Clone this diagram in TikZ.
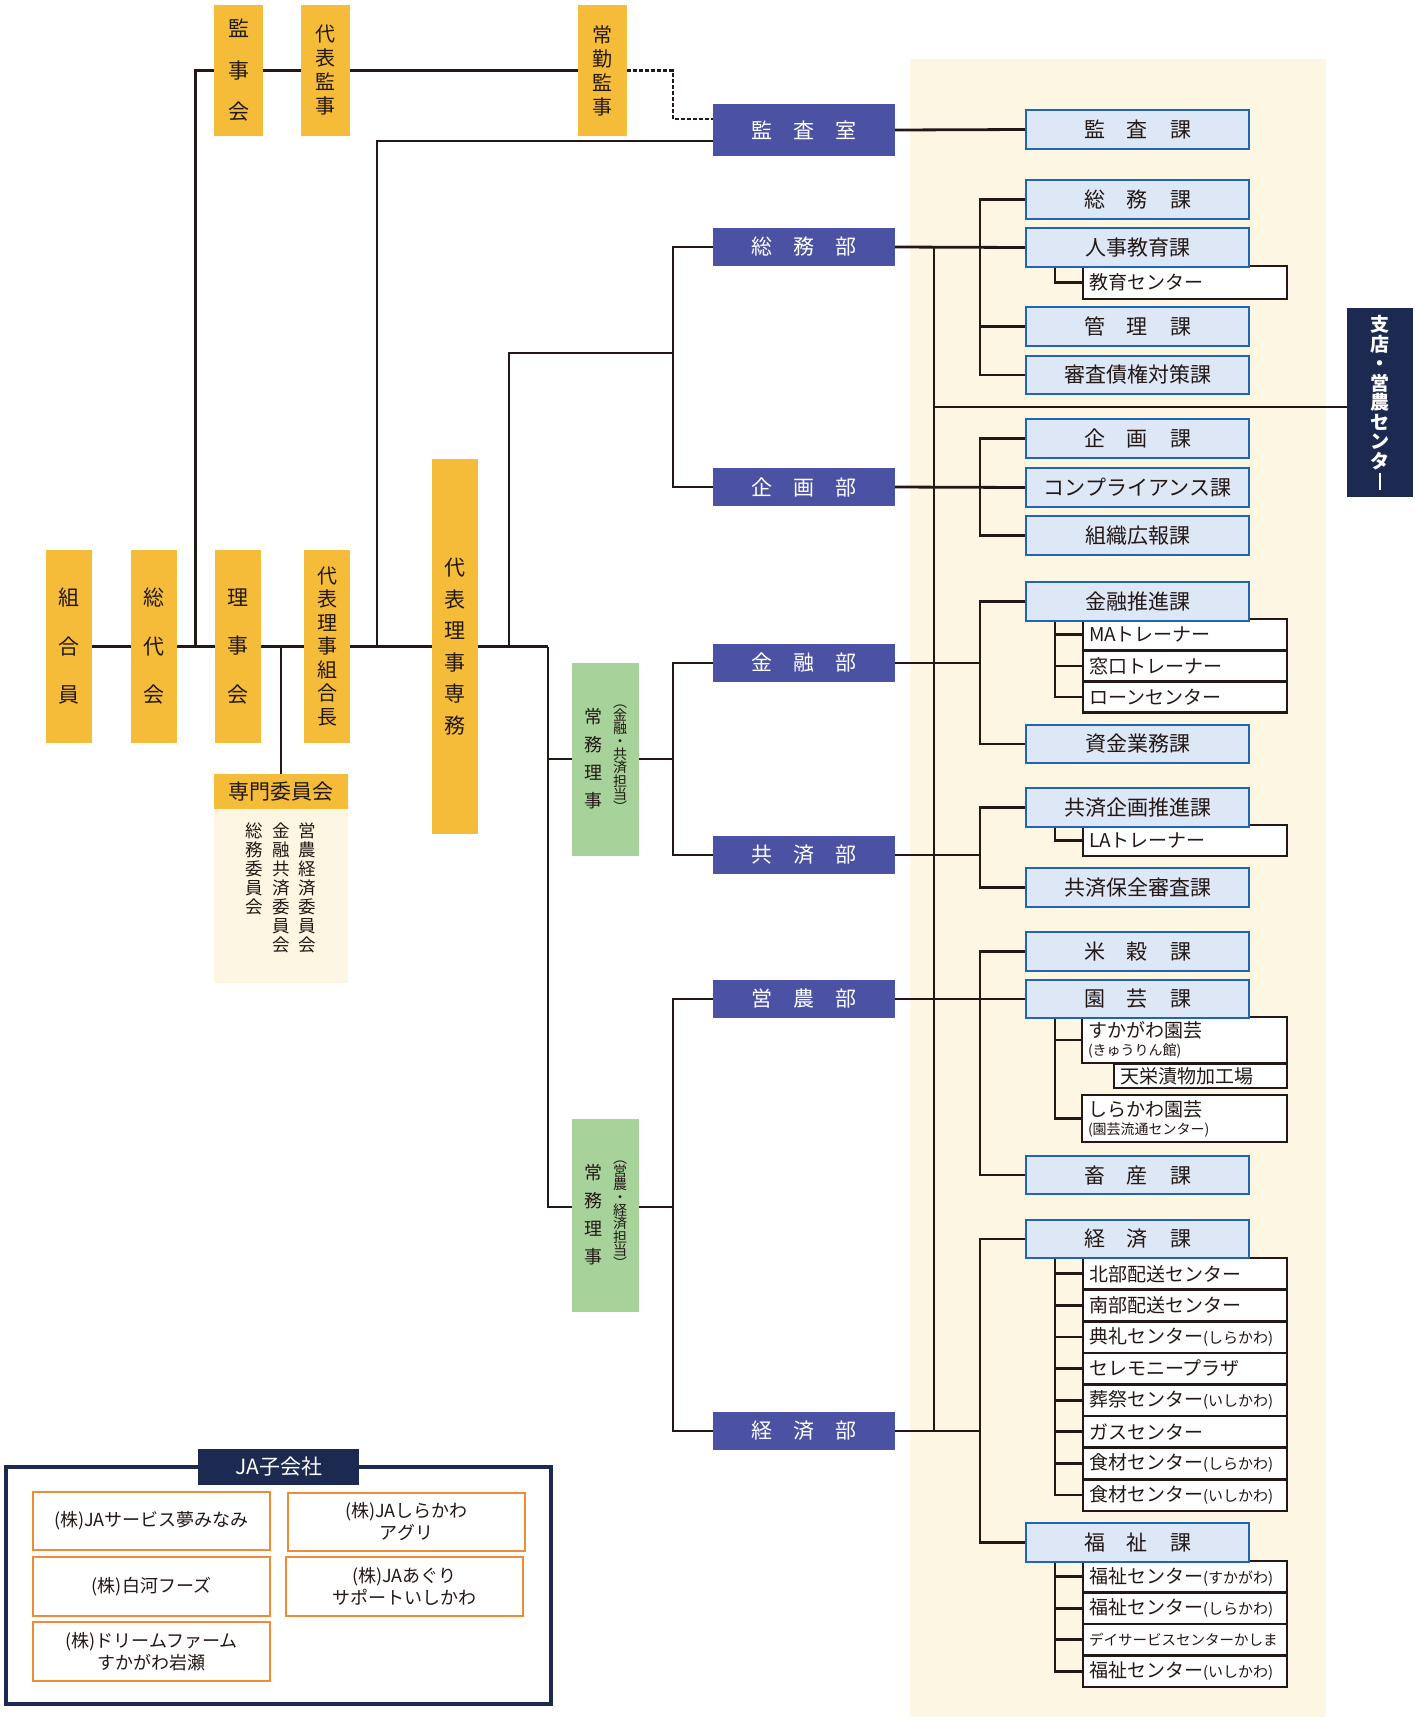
\documentclass[tikz,border=0pt]{standalone}
\usepackage{fontspec}
\setmainfont{Noto Sans CJK JP}
\definecolor{ink}{RGB}{35,24,21}
\definecolor{yel}{RGB}{244,188,57}
\definecolor{bub}{RGB}{75,82,163}
\definecolor{kaf}{RGB}{221,231,245}
\definecolor{kab}{RGB}{31,101,181}
\definecolor{grn}{RGB}{167,211,155}
\definecolor{crm}{RGB}{253,246,227}
\definecolor{nvy}{RGB}{28,42,82}
\definecolor{org}{RGB}{240,140,55}
\pgfdeclarelayer{back}\pgfdeclarelayer{bg}
\pgfsetlayers{back,bg,main}
\newcommand\bx[7]{\node[#1,minimum width={(#5-#3)*1pt},minimum height={(#6-#4)*1pt}] (#2) at ({(#3+#5)/2},{(#4+#6)/2}) {#7};}
\newcommand\fs[2]{\fontsize{#1}{#2}\selectfont}
\newcommand\bsp{\hspace{21pt}}
\newcommand\ksp{\hspace{22pt}}
\begin{document}
\begin{tikzpicture}[x=1pt,y=-1pt,
 yelbox/.style={fill=yel,text=ink,inner sep=0pt,align=center},
 bubox/.style={fill=bub,text=white,inner sep=0pt,font=\fs{21}{21}},
 kabox/.style={fill=kaf,draw=kab,line width=2.5pt,text=ink,inner sep=0pt,font=\fs{21}{21}},
 subbox/.style={fill=white,draw=ink,line width=2.6pt,text=ink,inner xsep=6pt,inner ysep=0pt,align=left,font=\fs{19}{19}},
 grnbox/.style={fill=grn,inner sep=0pt},
 creambox/.style={fill=crm,inner sep=0pt},
 navybox/.style={fill=nvy,text=white,inner sep=0pt,align=center},
 jaouter/.style={fill=white,draw=nvy,line width=3.5pt,inner sep=0pt},
 compbox/.style={fill=white,draw=org,line width=2.8pt,text=ink,inner sep=0pt,align=center,font=\fs{18}{22}},
 vtext/.style={inner sep=0pt,align=center,text=ink},
 ln/.style={draw=ink,line width=2.8pt},
 lnthin/.style={draw=ink,line width=2.2pt},
 dsh/.style={draw=ink,line width=2.6pt,dash pattern=on 4pt off 2pt}]
\useasboundingbox (0,0) rectangle (1416,1717);
\begin{pgfonlayer}{back}
\fill[crm] (910,59) rectangle (1326,1717);
\end{pgfonlayer}

% ---- yellow boxes ----
\bx{yelbox,font=\fs{21}{41.5}}{kanjikai}{214}{5}{263}{136}{監\\事\\会}
\bx{yelbox,font=\fs{20}{24}}{daikanji}{301}{5}{350}{136}{代\\表\\監\\事}
\bx{yelbox,font=\fs{20}{24}}{jokin}{578}{5}{627}{136}{常\\勤\\監\\事}
\bx{yelbox,font=\fs{21}{48.5}}{kumiai}{46}{550}{92}{743}{組\\合\\員}
\bx{yelbox,font=\fs{21}{48.5}}{sodai}{131}{550}{177}{743}{総\\代\\会}
\bx{yelbox,font=\fs{21}{48.5}}{rijikai}{215}{550}{261}{743}{理\\事\\会}
\bx{yelbox,font=\fs{20}{23.5}}{kumiaicho}{304}{550}{350}{743}{代\\表\\理\\事\\組\\合\\長}
\bx{yelbox,font=\fs{21}{31.5}}{senmu}{432}{459}{478}{834}{代\\表\\理\\事\\専\\務}
\bx{yelbox,font=\fs{21}{21}}{senmon}{214}{774}{348}{809}{専門委員会}
\bx{creambox}{iinkai}{214}{809}{348}{983}{}
\node[vtext,anchor=north,font=\fs{17.5}{18.9}] (i1) at (307,823) {営\\農\\経\\済\\委\\員\\会};
\node[vtext,anchor=north,font=\fs{17.5}{18.9}] (i2) at (281,823) {金\\融\\共\\済\\委\\員\\会};
\node[vtext,anchor=north,font=\fs{17.5}{18.9}] (i3) at (254,823) {総\\務\\委\\員\\会};

% ---- green boxes ----
\bx{grnbox}{jomu1}{572}{663}{639}{856}{}
\node[vtext,font=\fs{18}{28}] (j1a) at (593,759) {常\\務\\理\\事};
\node[vtext,font=\fs{14}{13}] (j1b) at (620,759) {︵\\金\\融\\・\\共\\済\\担\\当\\︶};
\bx{grnbox}{jomu2}{572}{1119}{639}{1312}{}
\node[vtext,font=\fs{18}{28}] (j2a) at (593,1215) {常\\務\\理\\事};
\node[vtext,font=\fs{14}{13}] (j2b) at (620,1215) {︵\\営\\農\\・\\経\\済\\担\\当\\︶};

% ---- blue departments ----
\bx{bubox}{kansashitsu}{713}{104}{895}{156}{監\bsp 査\bsp 室}
\bx{bubox}{somubu}{713}{228}{895}{266}{総\bsp 務\bsp 部}
\bx{bubox}{kikakubu}{713}{468}{895}{506}{企\bsp 画\bsp 部}
\bx{bubox}{kinyubu}{713}{644}{895}{682}{金\bsp 融\bsp 部}
\bx{bubox}{kyosaibu}{713}{836}{895}{874}{共\bsp 済\bsp 部}
\bx{bubox}{einobu}{713}{980}{895}{1018}{営\bsp 農\bsp 部}
\bx{bubox}{keizaibu}{713}{1412}{895}{1450}{経\bsp 済\bsp 部}

% ---- sub boxes (white) ----
\bx{subbox,text width=192pt}{kyoiku}{1083}{266}{1287}{299}{教育センター}
\bx{subbox,text width=192pt}{ma}{1083}{619}{1287}{650.5}{MAトレーナー}
\bx{subbox,text width=192pt}{madoguchi}{1083}{650.5}{1287}{681.5}{窓口トレーナー}
\bx{subbox,text width=192pt}{loan}{1083}{681.5}{1287}{712.5}{ローンセンター}
\bx{subbox,text width=192pt}{la}{1083}{825}{1287}{856}{LAトレーナー}
\bx{subbox,text width=193pt,font=\fs{19}{18}}{sukagawa}{1082}{1017}{1287}{1063}{すかがわ園芸\\{\fs{14}{14}(きゅうりん館)}}
\bx{subbox,text width=161pt}{tenei}{1114}{1064}{1287}{1088}{天栄漬物加工場}
\bx{subbox,text width=193pt,font=\fs{19}{18}}{shirakawa}{1082}{1095}{1287}{1142}{しらかわ園芸\\{\fs{14}{14}(園芸流通センター)}}
\bx{subbox,text width=192pt}{k1}{1083}{1258}{1287}{1289.6}{北部配送センター}
\bx{subbox,text width=192pt}{k2}{1083}{1289.6}{1287}{1321.2}{南部配送センター}
\bx{subbox,text width=192pt}{k3}{1083}{1321.2}{1287}{1352.8}{典礼センター{\fs{15}{15}(しらかわ)}}
\bx{subbox,text width=192pt}{k4}{1083}{1352.8}{1287}{1384.4}{セレモニープラザ}
\bx{subbox,text width=192pt}{k5}{1083}{1384.4}{1287}{1416}{葬祭センター{\fs{15}{15}(いしかわ)}}
\bx{subbox,text width=192pt}{k6}{1083}{1416}{1287}{1447.6}{ガスセンター}
\bx{subbox,text width=192pt}{k7}{1083}{1447.6}{1287}{1479.2}{食材センター{\fs{15}{15}(しらかわ)}}
\bx{subbox,text width=192pt}{k8}{1083}{1479.2}{1287}{1510.8}{食材センター{\fs{15}{15}(いしかわ)}}
\bx{subbox,text width=192pt}{f1}{1083}{1561}{1287}{1592.5}{福祉センター{\fs{15}{15}(すかがわ)}}
\bx{subbox,text width=192pt}{f2}{1083}{1592.5}{1287}{1624}{福祉センター{\fs{15}{15}(しらかわ)}}
\bx{subbox,text width=192pt,font=\fs{14.5}{14.5}}{f3}{1083}{1624}{1287}{1655.5}{デイサービスセンターかしま}
\bx{subbox,text width=192pt}{f4}{1083}{1655.5}{1287}{1687}{福祉センター{\fs{15}{15}(いしかわ)}}

% ---- sections ----
\bx{kabox}{kansaka}{1026}{110}{1249}{149}{監\ksp 査\ksp 課}
\bx{kabox}{somuka}{1026}{180}{1249}{219}{総\ksp 務\ksp 課}
\bx{kabox}{jinji}{1026}{228}{1249}{267}{人事教育課}
\bx{kabox}{kanri}{1026}{307}{1249}{346}{管\ksp 理\ksp 課}
\bx{kabox}{shinsa}{1026}{356}{1249}{394}{審査債権対策課}
\bx{kabox}{kikakuka}{1026}{419}{1249}{458}{企\ksp 画\ksp 課}
\bx{kabox}{compliance}{1026}{468}{1249}{507}{コンプライアンス課}
\bx{kabox}{soshiki}{1026}{516}{1249}{555}{組織広報課}
\bx{kabox}{kinyusuishin}{1026}{582}{1249}{621}{金融推進課}
\bx{kabox}{shikin}{1026}{725}{1249}{763}{資金業務課}
\bx{kabox}{kyosaikikaku}{1026}{788}{1249}{827}{共済企画推進課}
\bx{kabox}{kyosaihozen}{1026}{868}{1249}{907}{共済保全審査課}
\bx{kabox}{beikoku}{1026}{932}{1249}{971}{米\ksp 穀\ksp 課}
\bx{kabox}{engei}{1026}{980}{1249}{1018}{園\ksp 芸\ksp 課}
\bx{kabox}{chikusan}{1026}{1156}{1249}{1194}{畜\ksp 産\ksp 課}
\bx{kabox}{keizaika}{1026}{1220}{1249}{1258}{経\ksp 済\ksp 課}
\bx{kabox}{fukushi}{1026}{1523}{1249}{1562}{福\ksp 祉\ksp 課}

% ---- branch box ----
\bx{navybox,font=\bfseries\fs{19}{19.5}}{shiten}{1347}{308}{1413}{497}{支\\店\\・\\営\\農\\セ\\ン\\タ\\\rule[-2pt]{1.8pt}{17pt}}

% ---- JA subsidiaries ----
\bx{jaouter}{jabox}{6}{1467}{551}{1704}{}
\bx{navybox,font=\fs{21}{21}}{jalabel}{198}{1449}{359}{1485}{JA子会社}
\bx{compbox}{c1}{33}{1492}{270}{1550}{(株)JAサービス夢みなみ}
\bx{compbox}{c2}{288}{1493}{525}{1551}{(株)JAしらかわ\\アグリ}
\bx{compbox}{c3}{33}{1557}{270}{1616}{(株)白河フーズ}
\bx{compbox}{c4}{286}{1557}{523}{1616}{(株)JAあぐり\\サポートいしかわ}
\bx{compbox}{c5}{33}{1622}{270}{1681}{(株)ドリームファーム\\すかがわ岩瀬}

% ---- connectors ----
\begin{pgfonlayer}{bg}
\coordinate (jA) at (195.5,646.5);
\coordinate (jB) at (377,646.5);
\coordinate (jC) at (509,646.5);
\coordinate (jD) at (281,646.5);
\coordinate (jE) at (548,646.5);
\coordinate (dq) at (673,70.5);
\draw[ln] (kumiai.center) -- (jE);
\draw[ln] (jA) |- (jokin.west);
\draw[dsh] (jokin.east) -- (dq) -- (673,119) -- (kansashitsu.west |- 0,119);
\draw[lnthin] (jB) -- (377,141) -- (kansashitsu.west |- 0,141);
\draw[lnthin] (jC) -- (509,353) -- (673,353);
\draw[ln] (somubu.west) -| (673,487) -- (kikakubu.west);
\draw[ln] (jD) -- (senmon.north);
\draw[ln] (jE) -- (548,1207) -- (jomu2.west |- 0,1207);
\draw[ln] (548,759) -- (jomu1.west |- 0,759);
\draw[ln] (jomu1.east |- 0,759) -- (673,759);
\draw[ln] (kinyubu.west) -| (673,855) -- (kyosaibu.west);
\draw[ln] (jomu2.east |- 0,1207) -- (673,1207);
\draw[ln] (einobu.west) -| (673,1431) -- (keizaibu.west);
% departments to sections
\draw[ln] (kansashitsu.east) -- (kansaka.west);
\draw[ln] (somubu.east) -- (jinji.west);
\draw[ln] (934,247) -- (934,1431);
\draw[lnthin] (934,407) -- (shiten.west |- 0,407);
\draw[ln] (kikakubu.east) -- (compliance.west);
\draw[ln] (kinyubu.east) -- (980,663);
\draw[ln] (kyosaibu.east) -- (980,855);
\draw[ln] (einobu.east) -- (engei.west);
\draw[ln] (keizaibu.east) -- (980,1431);
% brackets
\draw[ln] (somuka.west) -| (980,0 |- shinsa.west) -- (shinsa.west);
\draw[ln] (kanri.west) -- (980,0 |- kanri.west);
\draw[ln] (kikakuka.west) -| (980,0 |- soshiki.west) -- (soshiki.west);
\draw[ln] (kinyusuishin.west) -| (980,0 |- shikin.west) -- (shikin.west);
\draw[ln] (kyosaikikaku.west) -| (980,0 |- kyosaihozen.west) -- (kyosaihozen.west);
\draw[ln] (beikoku.west) -| (980,0 |- chikusan.west) -- (chikusan.west);
\draw[ln] (keizaika.west) -| (980,0 |- fukushi.west) -- (fukushi.west);
% sub brackets
\draw[ln] (1055,0 |- jinji.south) |- (kyoiku.west);
\draw[ln] (1055,0 |- kinyusuishin.south) |- (loan.west);
\foreach \n in {ma,madoguchi} \draw[ln] (1055,0 |- \n.west) -- (\n.west);
\draw[ln] (1055,0 |- kyosaikikaku.south) |- (la.west);
\draw[ln] (1055,0 |- engei.south) |- (shirakawa.west);
\draw[ln] (1055,0 |- sukagawa.west) -- (sukagawa.west);
\draw[ln] (1055,0 |- keizaika.south) |- (k8.west);
\foreach \n in {k1,k2,k3,k4,k5,k6,k7} \draw[ln] (1055,0 |- \n.west) -- (\n.west);
\draw[ln] (1055,0 |- fukushi.south) |- (f4.west);
\foreach \n in {f1,f2,f3} \draw[ln] (1055,0 |- \n.west) -- (\n.west);
\end{pgfonlayer}
\end{tikzpicture}
\end{document}
